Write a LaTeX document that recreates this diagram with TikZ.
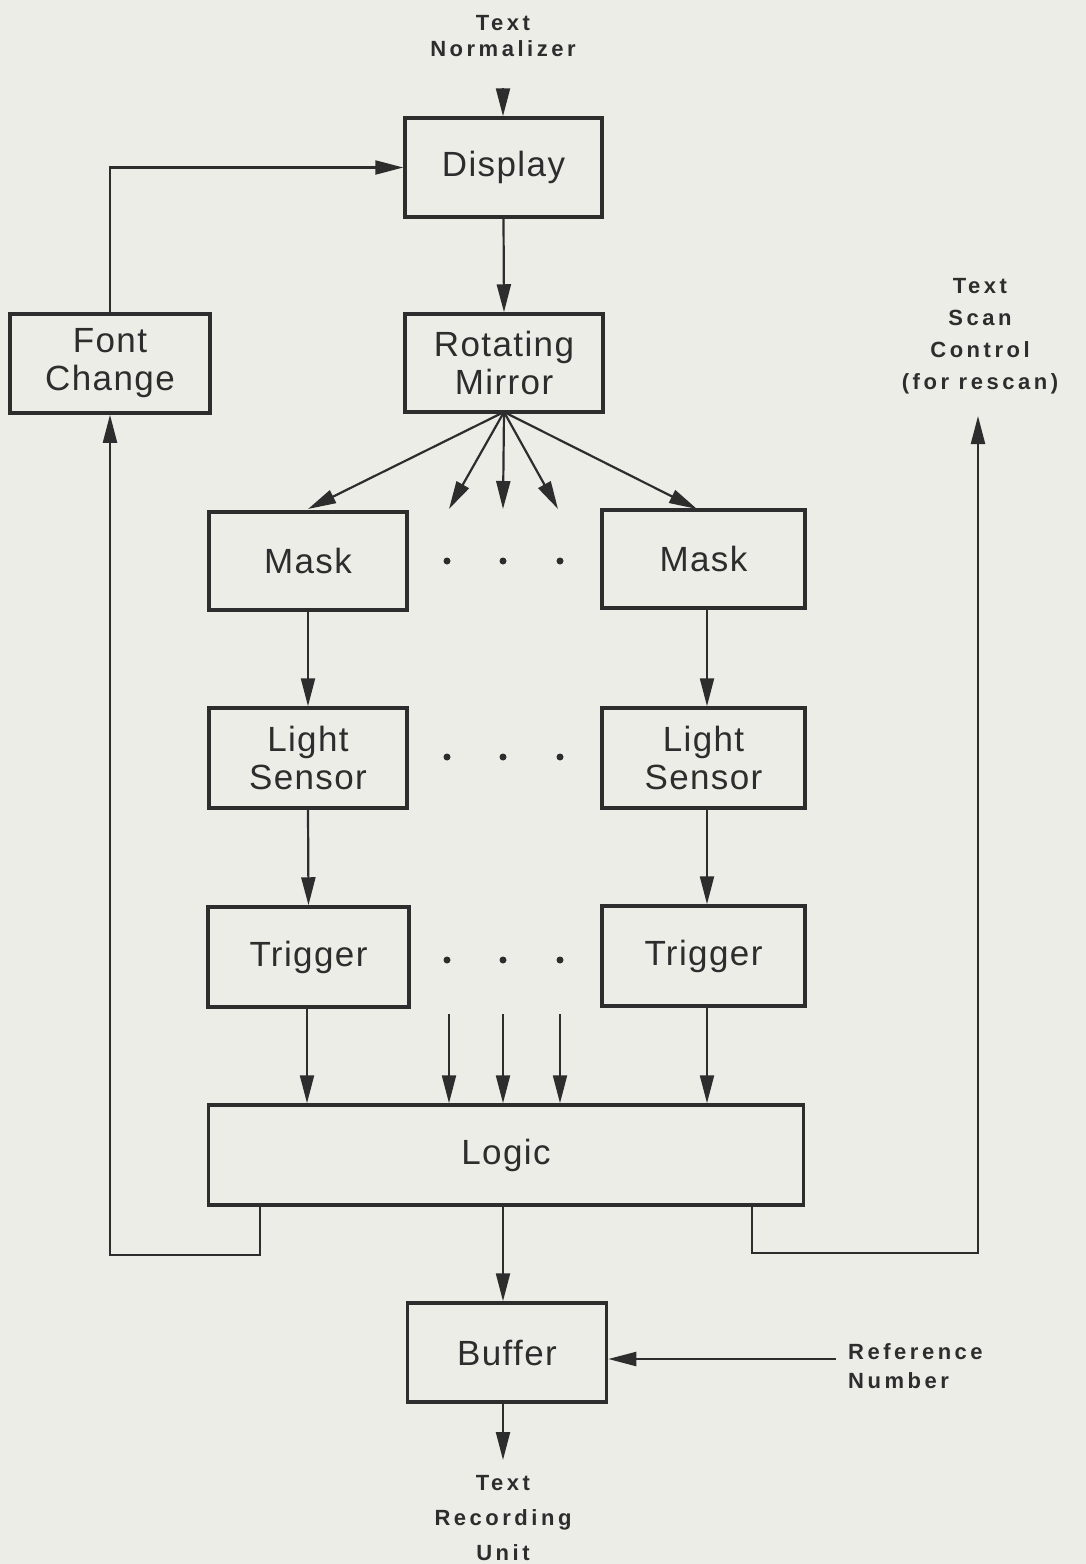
\documentclass[tikz,border=0pt]{standalone}
\usepackage{fontspec}
\usetikzlibrary{arrows.meta}
\newfontfamily\boxfont[LetterSpace=4]{Liberation Sans}
\newfontfamily\lblfont[LetterSpace=16]{Liberation Sans Bold}
\definecolor{paper}{RGB}{237,237,232}
\definecolor{ink}{RGB}{45,45,45}
\tikzset{
  blk/.style={draw=ink, line width=3.5pt, inner sep=0pt, align=center, text=ink,
    font=\boxfont\fontsize{35}{38}\selectfont},
  lbl/.style={inner sep=0pt, align=center, text=ink},
  conn/.style={draw=ink, line width=2.2pt},
  arr/.style={conn, -{Triangle[length=28pt,width=14pt]}},
  dotn/.style={circle, fill=ink, inner sep=0pt, minimum size=7pt},
}
\begin{document}
\begin{tikzpicture}[x=1pt,y=-1pt]
\fill[paper] (0,0) rectangle (1086,1564);
\useasboundingbox (0,0) rectangle (1086,1564);

% boxes
\node[blk, minimum width=197pt, minimum height=99pt] (disp) at (503.5,167.5) {Display};
\node[blk, minimum width=198pt, minimum height=98pt] (mirror) at (504,363) {Rotating\\Mirror};
\node[blk, minimum width=200pt, minimum height=99pt] (font) at (110,363.5) {Font\\Change};
\node[blk, minimum width=198pt, minimum height=98pt] (maskL) at (308,561) {Mask};
\node[blk, minimum width=203pt, minimum height=98pt] (maskR) at (703.5,559) {Mask};
\node[blk, minimum width=198pt, minimum height=100pt] (lsL) at (308,758) {Light\\Sensor};
\node[blk, minimum width=203pt, minimum height=100pt] (lsR) at (703.5,758) {Light\\Sensor};
\node[blk, minimum width=201pt, minimum height=100pt] (trL) at (308.5,957) {Trigger};
\node[blk, minimum width=203pt, minimum height=100pt] (trR) at (703.5,956) {Trigger};
\node[blk, minimum width=595pt, minimum height=100pt] (logic) at (506,1155) {Logic};
\node[blk, minimum width=199pt, minimum height=99pt] (buffer) at (507,1352.5) {Buffer};

% labels
\node[lbl, font=\lblfont\fontsize{22}{26}\selectfont] (norm) at (503,36) {Text\\Normalizer};
\node[lbl, font=\lblfont\fontsize{22}{32}\selectfont] (scan) at (980,336) {Text\\Scan\\Control\\(for rescan)};
\node[lbl, font=\lblfont\fontsize{22}{35}\selectfont] (rec) at (503,1518) {Text\\Recording\\Unit};
\node[lbl, font=\lblfont\fontsize{22}{29}\selectfont, align=left, anchor=west] (refn) at (848,1366) {Reference\\Number};

% dots
\foreach \yy/\nm in {561/a,757/b,960/c}{
  \node[dotn] (d1\nm) at (447,\yy) {};
  \node[dotn] (d2\nm) at (503,\yy) {};
  \node[dotn] (d3\nm) at (560,\yy) {};
}

% coordinates for free ends
\coordinate (normend) at (503,88);
\coordinate (f1) at (449,509);
\coordinate (f2) at (503,509);
\coordinate (f3) at (558,509);
\coordinate (fR) at (697,509);
\coordinate (fL) at (308,509);
\coordinate (m1) at (449,1014);
\coordinate (m2) at (503,1014);
\coordinate (m3) at (560,1014);
\coordinate (lo1) at (260,1205);
\coordinate (lo2) at (752,1205);
\coordinate (scanend) at (978,416);
\coordinate (refstart) at (836,1359);
\coordinate (recend) at (503,1460);
\coordinate (fan) at (504,412);

% connectors
\draw[arr] (normend) -- (normend |- disp.north);
\draw[arr] (font.north) |- (disp.west);
\draw[arr] (disp.south) -- (mirror.north);
\draw[arr] (fan) -- (fL);
\draw[arr] (fan) -- (f1);
\draw[arr] (fan) -- (f2);
\draw[arr] (fan) -- (f3);
\draw[arr] (fan) -- (fR);
\draw[arr] (maskL.south) -- (lsL.north);
\draw[arr] ([xshift=3.5pt]maskR.south) -- ([xshift=3.5pt]lsR.north);
\draw[arr] (lsL.south) -- (trL.north);
\draw[arr] ([xshift=3.5pt]lsR.south) -- ([xshift=3.5pt]trR.north);
\draw[arr] ([xshift=-1.5pt]trL.south) -- ([xshift=-1.5pt]trL.south |- logic.north);
\draw[arr] ([xshift=3.5pt]trR.south) -- ([xshift=3.5pt]trR.south |- logic.north);
\draw[arr] (m1) -- (m1 |- logic.north);
\draw[arr] (m2) -- (m2 |- logic.north);
\draw[arr] (m3) -- (m3 |- logic.north);
\draw[arr] (lo1) -- (260,1255) -| (font.south);
\draw[arr] (lo2) -- (752,1253) -| (scanend);
\draw[arr] (m2 |- logic.south) -- (m2 |- buffer.north);
\draw[arr] (refstart) -- (refstart -| buffer.east);
\draw[arr] (recend |- buffer.south) -- (recend);
\end{tikzpicture}
\end{document}
